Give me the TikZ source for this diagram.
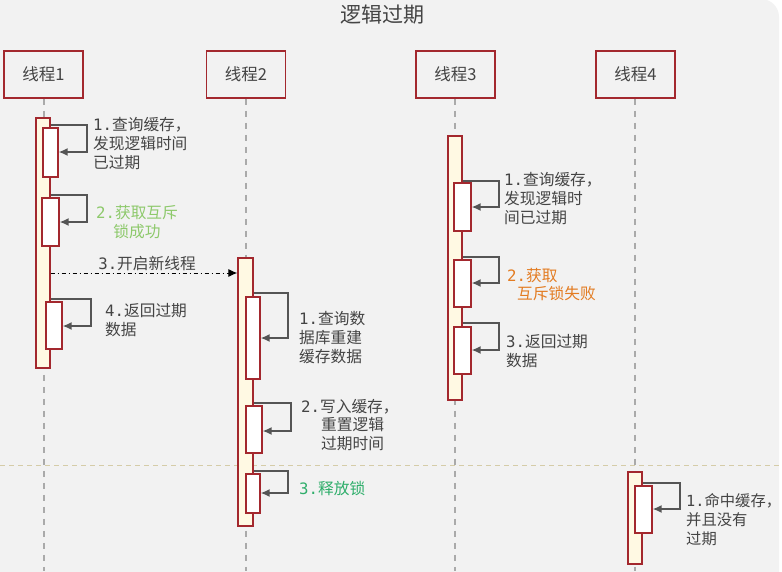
\documentclass[tikz,border=0pt]{standalone}
\usepackage{fontspec}
\newfontfamily\cjk{Noto Sans CJK SC}
\newfontfamily\mono{DejaVu Sans Mono}
\usetikzlibrary{arrows.meta}
\definecolor{bg}{HTML}{F2F2F2}
\definecolor{boxred}{HTML}{A3282E}
\definecolor{actfill}{HTML}{FFF9E3}
\definecolor{txt}{HTML}{444444}
\definecolor{arr}{HTML}{555555}
\definecolor{lgreen}{HTML}{8DC96B}
\definecolor{dgreen}{HTML}{2FAE6B}
\definecolor{orng}{HTML}{E37C22}
\definecolor{life}{HTML}{AAAAAA}
\definecolor{sepc}{HTML}{D5CCA8}
\newcommand{\dg}[1]{{\mono #1}}
\newcommand{\hcomma}{\makebox[0.4em][l]{，}}
\begin{document}
\begin{tikzpicture}[x=1pt,y=-1pt,
  threadbox/.style={draw=boxred,line width=1.6pt,fill=bg,minimum width=79pt,minimum height=47pt,inner sep=0pt,text=txt,font=\cjk\fontsize{16.5}{19}\selectfont},
  actbox/.style={draw=boxred,line width=1.3pt,fill=actfill,inner sep=0pt},
  subbox/.style={draw=boxred,line width=1.3pt,fill=white,inner sep=0pt},
  lifeline/.style={draw=life,line width=1.2pt,dash pattern=on 6pt off 6pt},
  selfarr/.style={draw=arr,line width=1.5pt,-{Latex[length=9pt,width=8pt]}},
  msgarr/.style={draw=black,line width=1pt,dash pattern=on 4pt off 3pt on 1pt off 3pt,-{Latex[length=9pt,width=8pt]}},
  lbl/.style={inner sep=0pt,text=txt,font=\cjk\fontsize{15.7}{19}\selectfont},
]
\useasboundingbox (0,0) rectangle (782,571);
\fill[white] (0,0) rectangle (782,571);
\fill[bg, rounded corners=18pt] (-30,-1) rectangle (779,600);

\node[inner sep=0pt,text=txt,font=\cjk\fontsize{21}{24}\selectfont] (title) at (382,15) {逻辑过期};

% thread boxes
\node[threadbox] (tb1) at (43.5,74.5) {线程1};
\node[threadbox] (tb2) at (246,74.5) {线程2};
\node[threadbox] (tb3) at (455.5,74.5) {线程3};
\node[threadbox] (tb4) at (635.5,74.5) {线程4};

% lifelines
\coordinate (e1) at (44,571);
\coordinate (e2) at (246,571);
\coordinate (e3) at (455,571);
\coordinate (e4) at (635,571);
\draw[lifeline] (tb1.south -| e1) -- (e1);
\draw[lifeline] (tb2.south -| e2) -- (e2);
\draw[lifeline] (tb3.south -| e3) -- (e3);
\draw[lifeline] (tb4.south -| e4) -- (e4);

% separator
\coordinate (sl) at (0,465);
\coordinate (sr) at (782,465);
\draw[draw=sepc,line width=1pt,dash pattern=on 5pt off 4pt] (sl) -- (sr);

% activations thread 1
\node[actbox,minimum width=14pt,minimum height=250pt] (a1) at (43,243) {};
\node[subbox,minimum width=15pt,minimum height=49pt] (s11) at (50.5,152.5) {};
\node[subbox,minimum width=17pt,minimum height=48pt] (s12) at (50.5,222) {};
\node[subbox,minimum width=16pt,minimum height=47pt] (s14) at (54,325.5) {};

% thread 2
\node[actbox,minimum width=15pt,minimum height=268pt] (a2) at (245.5,392) {};
\node[subbox,minimum width=14pt,minimum height=82pt] (s21) at (253,338) {};
\node[subbox,minimum width=16pt,minimum height=47pt] (s22) at (254,429.5) {};
\node[subbox,minimum width=14pt,minimum height=39pt] (s23) at (253,493.5) {};

% thread 3
\node[actbox,minimum width=14pt,minimum height=264pt] (a3) at (455,268) {};
\node[subbox,minimum width=17pt,minimum height=48pt] (s31) at (462.5,207) {};
\node[subbox,minimum width=17pt,minimum height=47pt] (s32) at (462.5,283.5) {};
\node[subbox,minimum width=17pt,minimum height=47pt] (s33) at (462.5,350.5) {};

% thread 4
\node[actbox,minimum width=14pt,minimum height=92pt] (a4) at (635,518) {};
\node[subbox,minimum width=17pt,minimum height=47pt] (s41) at (643.5,509.5) {};

% self arrows
\draw[selfarr] (a1.east |- 0,125) -- (87,125) -- (87,152) -- (s11.east |- 0,152);
\draw[selfarr] (a1.east |- 0,195) -- (87,195) -- (87,222) -- (s12.east |- 0,222);
\draw[selfarr] (a1.east |- 0,299) -- (91,299) -- (91,326) -- (s14.east |- 0,326);

\draw[selfarr] (a2.east |- 0,293) -- (288,293) -- (288,338) -- (s21.east |- 0,338);
\draw[selfarr] (a2.east |- 0,403) -- (291,403) -- (291,431) -- (s22.east |- 0,431);
\draw[selfarr] (a2.east |- 0,471) -- (288,471) -- (288,493) -- (s23.east |- 0,493);

\draw[selfarr] (a3.east |- 0,181) -- (499,181) -- (499,207) -- (s31.east |- 0,207);
\draw[selfarr] (a3.east |- 0,257) -- (499,257) -- (499,283) -- (s32.east |- 0,283);
\draw[selfarr] (a3.east |- 0,323) -- (499,323) -- (499,350) -- (s33.east |- 0,350);

\draw[selfarr] (a4.east |- 0,483) -- (680,483) -- (680,509) -- (s41.east |- 0,509);

% message
\draw[msgarr] (a1.east |- 0,273) -- (a2.west |- 0,273);
\node[lbl] (m3) at (147,264) {\dg{3.}开启新线程};

% labels
\node[lbl,anchor=west,align=left] (l11) at (93,144) {\dg{1.}查询缓存，\\发现逻辑时间\\已过期};
\node[lbl,align=center,text=lgreen] (l12) at (137,222.5) {\dg{2.}获取互斥\\锁成功};
\node[lbl,anchor=west,align=left] (l14) at (105,320) {\dg{4.}返回过期\\数据};

\node[lbl,anchor=west,align=left] (l21) at (299,338) {\dg{1.}查询数\\据库重建\\缓存数据};
\node[lbl,anchor=west,align=left] (l22a) at (301,407) {\dg{2.}写入缓存，};
\node[lbl,anchor=west,align=left] (l22b) at (321,434.5) {重置逻辑\\过期时间};
\node[lbl,anchor=west,text=dgreen] (l23) at (299,488) {\dg{3.}释放锁};

\node[lbl,anchor=west,align=left] (l31) at (504,199) {\dg{1.}查询缓存，\\发现逻辑时\\间已过期};
\node[lbl,anchor=west,text=orng] (l32a) at (507,276) {\dg{2.}获取};
\node[lbl,anchor=west,text=orng] (l32b) at (517,294) {互斥锁失败};
\node[lbl,anchor=west,align=left] (l33) at (506,351) {\dg{3.}返回过期\\数据};

\node[lbl,anchor=west,align=left,font=\cjk\fontsize{15.3}{19}\selectfont] (l41) at (686,520) {\dg{1.}命中缓存\hcomma\\并且没有\\过期};
\end{tikzpicture}
\end{document}
